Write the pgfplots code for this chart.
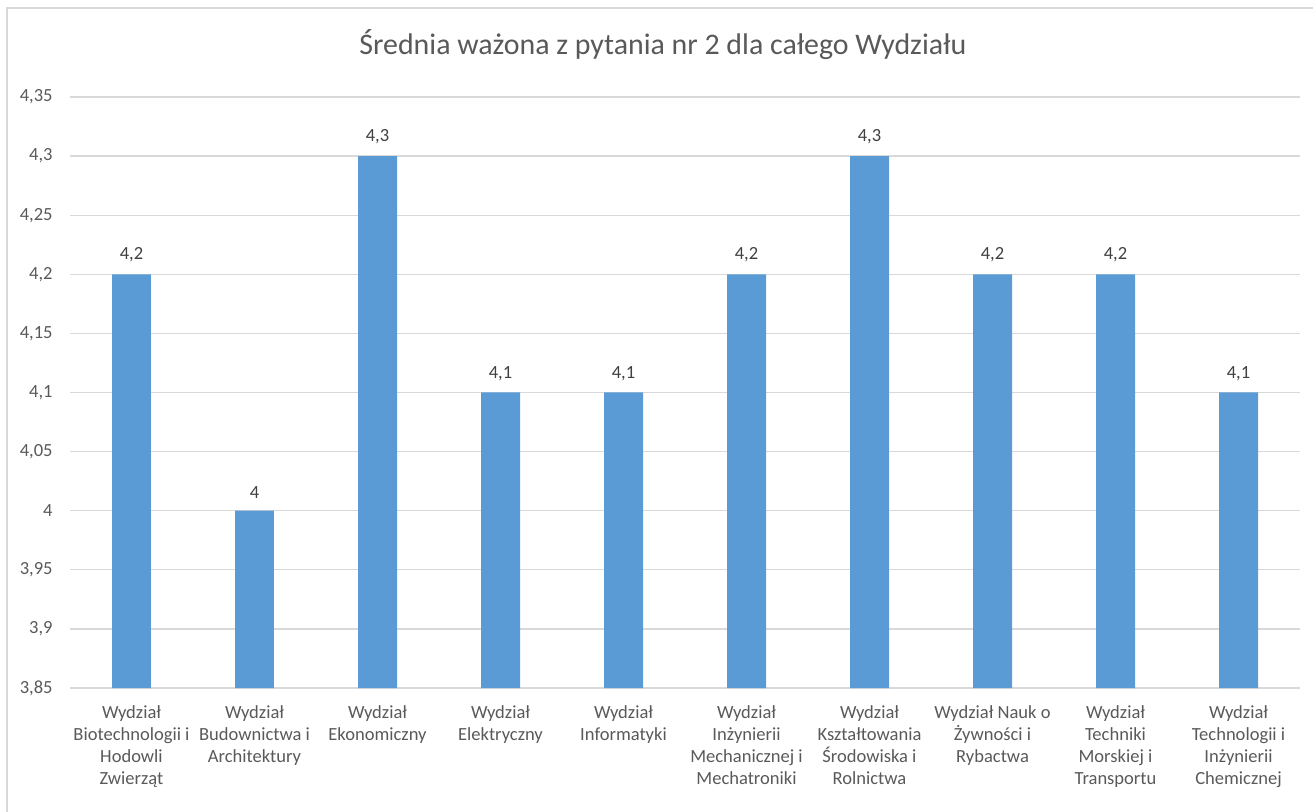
\documentclass[border=0pt]{standalone}
\usepackage{fontspec}
\setmainfont{Carlito}
\usepackage{pgfplots}
\pgfplotsset{compat=1.18}
\definecolor{barblue}{HTML}{5B9BD5}
\definecolor{gridgray}{HTML}{D9D9D9}
\definecolor{labgray}{HTML}{595959}
\definecolor{datgray}{HTML}{404040}

\begin{document}
\begin{tikzpicture}
% picture frame of the original chart (left and top edge only are visible)
\path[use as bounding box] (-35bp,-62bp) rectangle (621.5bp,344bp);
\draw[gridgray, line width=1bp] (-31.5bp,-62bp) -- (-31.5bp,340bp) -- (621.5bp,340bp);
\begin{axis}[
    at={(0,0)}, anchor=south west,
    scale only axis,
    width=615bp, height=295.5bp,
    xmin=-0.5, xmax=9.5,
    ymin=3.85, ymax=4.35,
    ytick={3.85,3.9,3.95,4,4.05,4.1,4.15,4.2,4.25,4.3,4.35},
    xtick={0,...,9},
    xticklabels={
        {Wydział\\Biotechnologii i\\Hodowli\\Zwierząt},
        {Wydział\\Budownictwa i\\Architektury},
        {Wydział\\Ekonomiczny},
        {Wydział\\Elektryczny},
        {Wydział\\Informatyki},
        {Wydział\\Inżynierii\\Mechanicznej i\\Mechatroniki},
        {Wydział\\Kształtowania\\Środowiska i\\Rolnictwa},
        {Wydział Nauk o\\Żywności i\\Rybactwa},
        {Wydział\\Techniki\\Morskiej i\\Transportu},
        {Wydział\\Technologii i\\Inżynierii\\Chemicznej}},
    xticklabel style={align=center, font=\fontsize{9.3}{11}\selectfont, text=labgray, yshift=-5.5bp},
    yticklabel style={font=\fontsize{9.3}{11}\selectfont, text=labgray, inner sep=0pt, xshift=-8.5bp},
    /pgf/number format/assume math mode=true,
    /pgf/number format/use comma,
    major tick length=0pt,
    axis line style={draw=none},
    ymajorgrids=true,
    grid style={gridgray, line width=0.6bp},
    ybar, bar width=0.317,
    nodes near coords,
    every node near coord/.append style={font=\fontsize{9.3}{11}\selectfont, text=datgray, yshift=2.5bp},
    title={Średnia ważona z pytania nr 2 dla całego Wydziału},
    title style={at={(rel axis cs:0.482,1.068)}, anchor=center, font=\fontsize{15}{17}\selectfont, text=labgray},
]
\addplot[fill=barblue, draw=none] coordinates {
    (0,4.2) (1,4.0) (2,4.3) (3,4.1) (4,4.1)
    (5,4.2) (6,4.3) (7,4.2) (8,4.2) (9,4.1)};
\end{axis}
\end{tikzpicture}
\end{document}
